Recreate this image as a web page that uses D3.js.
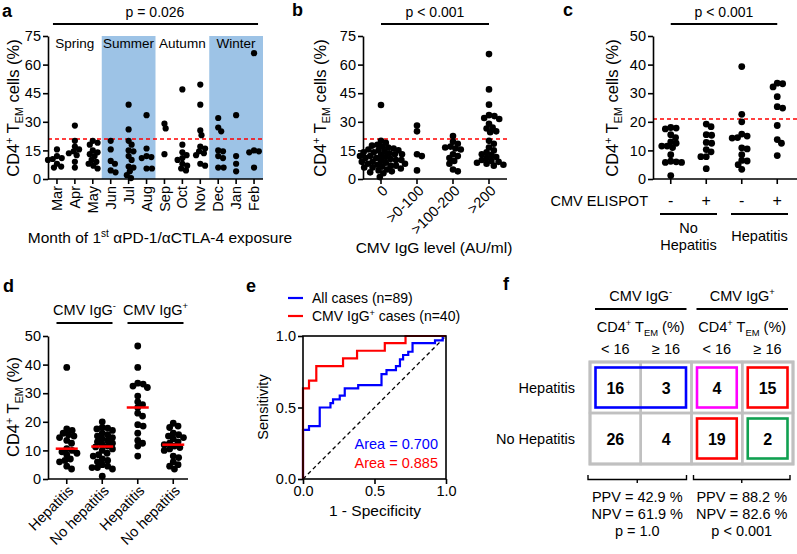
<!DOCTYPE html>
<html><head><meta charset="utf-8">
<script src="https://cdn.jsdelivr.net/npm/d3@7"></script>
<style>
body{margin:0;background:#fff}
text{font-family:"Liberation Sans",Arial,sans-serif;fill:#000}
</style>
</head><body>
<svg id="c" width="797" height="554"></svg>
<script>
// ---------------- DATA ----------------
const months = ["Mar","Apr","May","Jun","Jul","Aug","Sep","Oct","Nov","Dec","Jan","Feb"];
const monthValues = [
  [15.5, 12, 11, 10.5, 10, 8, 6.5, 6],
  [28, 20, 17, 15.5, 14.5, 13.5, 12.5, 9, 6],
  [20, 19, 18, 15, 14, 13, 12, 10, 9, 8, 7, 5.5],
  [20, 15.5, 9.5, 8, 4.5, 3.5],
  [39, 26, 20, 18, 15, 14.5, 12, 10, 6.5, 6, 4, 2, 0.5],
  [33.5, 16, 12, 11.5, 11, 5.5, 5.5],
  [29, 26.5, 13],
  [47, 18, 14, 12.5, 11, 10, 8, 7, 5.5, 4.5],
  [49.5, 39, 25.5, 23, 17, 16, 14.5, 13.5, 12.5, 8, 7],
  [32, 27, 25, 15, 14.5, 12, 11, 6, 6],
  [33.5, 12, 8, 4],
  [66, 15, 14.5, 14, 6]
];
const seasons = ["Spring","Summer","Autumn","Winter"];
const seasonShaded = [false, true, false, true];
const ticksA = [0,15,30,45,60,75];
const pA = "p = 0.026";

const igGroups = ["0", ">0-100", ">100-200", ">200"];
const igValues = [
  [38.8, 20, 19, 18, 17.5, 17, 16.5, 16, 15.5, 15, 15, 14.5, 14, 14, 13.5, 13, 13, 12.5, 12, 12, 11.5, 11, 11, 10.5, 10, 10, 9.5, 9, 9, 8.5, 8, 8, 7.5, 7, 7, 6.5, 6, 6, 5.5, 5, 4.5, 4, 3.5, 3, 1],
  [28, 25, 13, 12, 4.5],
  [22.5, 19.5, 18.5, 17, 16.5, 16, 15.5, 13, 12, 11, 9.5, 8, 5, 4],
  [65.5, 47, 39, 33.5, 33, 32, 31.5, 29, 27, 26.5, 25, 24.5, 20, 18.5, 16.5, 15, 14, 13, 12.5, 11.5, 11, 10, 9.5, 9, 8.5, 8, 7.5, 7]
];
const pB = "p < 0.001";

const elispotGroups = ["NoHep-","NoHep+","Hep-","Hep+"];
const elispotSigns = ["-","+","-","+"];
const elispotValues = [
  [18, 17.5, 17.8, 15.5, 14.5, 13, 12.5, 11.5, 11, 11.5, 8.5, 6.2, 5.8, 5.8, 6, 1.2],
  [19.2, 18.3, 15.5, 15.3, 12.8, 12.5, 10.3, 9.5, 7.8, 7.8, 3.6],
  [39.3, 22.6, 20, 15.7, 15, 14.5, 14.3, 10.9, 10.5, 8.5, 6.5, 6.3, 5, 3.4],
  [33.3, 33.5, 32.2, 28.8, 25.3, 24.8, 18.7, 13.8, 12.5, 8.2]
];
const ticksC = [0,10,20,30,40,50];
const pC = "p < 0.001";
const threshold = 21;

const dGroups = ["Hepatitis","No hepatitis","Hepatitis ","No hepatitis "];
const dValues = [
  [39, 17.5, 17, 16, 15.5, 15, 14.5, 13.5, 12.5, 10.6, 10, 9.5, 9, 8.5, 7, 6.5, 6, 4.5, 3.5],
  [20, 18, 17.8, 17.5, 17, 16, 15.5, 15, 14.5, 14, 13.5, 13, 12.5, 12, 11.5, 11.2, 10.5, 10, 9, 8.5, 8, 7, 6.5, 6, 5, 4.5, 4, 4, 3.5, 1],
  [46.5, 39, 33.5, 33.2, 32.5, 32, 29, 27, 26, 25, 23, 22, 19, 18.5, 16, 13.5, 12.5, 11.5, 8],
  [19.5, 18.5, 18, 16, 15.5, 15, 14.5, 14, 13, 12.5, 12, 11.5, 11, 10.5, 10, 8, 7.5, 6, 5, 4.5, 3.5]
];

// ROC: [fpr, tpr] corners (step after)
const rocAll = [[0,0],[0,0.343],[0.042,0.37],[0.117,0.5],[0.192,0.53],[0.21,0.557],[0.257,0.583],[0.292,0.634],[0.386,0.657],[0.549,0.734],[0.584,0.762],[0.65,0.79],[0.678,0.837],[0.70,0.867],[0.736,0.89],[0.766,0.95],[0.923,0.97],[0.977,1],[1,1]];
const rocIgG = [[0,0],[0,0.634],[0.042,0.688],[0.093,0.79],[0.28,0.844],[0.378,0.897],[0.572,0.95],[0.717,1],[1,1]];
const rocLegend = ["All cases (n=89)", "CMV IgG+ cases (n=40)"];
const rocArea = ["Area = 0.700", "Area = 0.885"];

const fGroups = ["CMV IgG-","CMV IgG+"];
const fCols = ["< 16","≥ 16","< 16","≥ 16"];
const fRows = ["Hepatitis","No Hepatitis"];
const fCounts = [[16,3,4,15],[26,4,19,2]];
const fStats = [["PPV = 42.9 %","NPV = 61.9 %","p = 1.0"],["PPV = 88.2 %","NPV = 82.6 %","p < 0.001"]];

// ---------------- HELPERS ----------------
const svg = d3.select("#c");
const FS = 14.5;

function swarm(vals, y, r) {
  const pts = vals.map(v => ({v, y: y(v)})).sort((a,b) => a.y - b.y);
  const placed = [];
  const d = 2*r*0.78;
  for (const p of pts) {
    let chosen = 0;
    for (let k = 0; k < 200; k++) {
      const off = (k === 0) ? 0 : (k % 2 ? 1 : -1) * Math.ceil(k/2) * 0.6;
      let ok = true;
      for (const q of placed) {
        const dx = q.dx - off, dy = q.y - p.y;
        if (dx*dx + dy*dy < d*d) { ok = false; break; }
      }
      if (ok) { chosen = off; break; }
    }
    p.dx = chosen; placed.push(p);
  }
  return placed;
}

function yAxis(g, scale, ticks, x, fmt) {
  const ax = d3.axisLeft(scale).tickValues(ticks).tickSize(5).tickSizeOuter(0).tickPadding(2);
  if (fmt) ax.tickFormat(fmt);
  const s = g.append("g").attr("transform", `translate(${x},0)`).call(ax);
  s.select(".domain").attr("stroke","#000").attr("stroke-width",1.6);
  s.selectAll(".tick line").attr("stroke","#000").attr("stroke-width",1.6);
  s.selectAll(".tick text").attr("font-size",FS).attr("font-family","Liberation Sans, Arial, sans-serif").attr("fill","#000");
  return s;
}
function xAxis(g, scale, y, x0, x1) {
  g.append("line").attr("x1",x0).attr("x2",x1).attr("y1",y).attr("y2",y).attr("stroke","#000").attr("stroke-width",1.6);
  scale.domain().forEach(k => {
    const cx = scale(k) + (scale.bandwidth ? scale.bandwidth()/2 : 0);
    g.append("line").attr("x1",cx).attr("x2",cx).attr("y1",y).attr("y2",y+5).attr("stroke","#000").attr("stroke-width",1.6);
  });
}
function rich(t, parts, size) {
  let cur = 0;
  parts.forEach(([s, kind]) => {
    const target = kind === "sup" ? -size*0.38 : kind === "sub" ? size*0.25 : 0;
    const ts = t.append("tspan").attr("dy", target - cur).text(s);
    if (kind !== "n") ts.attr("font-size", size*0.65);
    cur = target;
  });
}
function cdTitle(g, x, y, rest, size) {
  const t = g.append("text").attr("transform",`translate(${x},${y}) rotate(-90)`).attr("text-anchor","middle").attr("font-size",size);
  rich(t, [["CD4","n"],["+","sup"],[" T","n"],["EM","sub"],[rest,"n"]], size);
}
function letter(x, y, s) {
  svg.append("text").attr("x",x).attr("y",y).attr("font-size",18).attr("font-weight","bold").text(s);
}
function dots(g, vals, y, cx, r) {
  swarm(vals, y, r).forEach(p => {
    g.append("circle").attr("cx", cx + p.dx).attr("cy", p.y).attr("r", r).attr("fill","#000");
  });
}
function dashed(g, x0, x1, y) {
  g.append("line").attr("x1",x0).attr("x2",x1).attr("y1",y).attr("y2",y)
   .attr("stroke","#ff0000").attr("stroke-width",1.6).attr("stroke-dasharray","4,3");
}
function hline(g, x0, x1, y, w) {
  g.append("line").attr("x1",x0).attr("x2",x1).attr("y1",y).attr("y2",y).attr("stroke","#000").attr("stroke-width",w||2);
}

// ---------------- PANEL A ----------------
{
  const g = svg.append("g");
  const y = d3.scaleLinear().domain([0,75]).range([179,36]);
  const x = d3.scaleBand().domain(months).range([48,263]);
  const bw = x.bandwidth();
  seasons.forEach((s,i) => {
    const x0 = x(months[i*3]), x1 = x(months[i*3+2]) + bw;
    if (seasonShaded[i]) g.append("rect").attr("x",x0).attr("y",y(75)).attr("width",x1-x0).attr("height",y(0)-y(75)).attr("fill","#9dc3e6");
    g.append("text").attr("x",(x0+x1)/2).attr("y",48).attr("text-anchor","middle").attr("font-size",13.5).text(s);
  });
  dashed(g, 48, 263, y(threshold));
  months.forEach((m,i) => dots(g, monthValues[i], y, x(m)+bw/2, 3.1));
  yAxis(g, y, ticksA, 48);
  xAxis(g, x, 179, 48, 263);
  months.forEach(m => {
    g.append("text").attr("transform",`translate(${x(m)+bw/2},${186}) rotate(-90)`).attr("text-anchor","end").attr("dy","0.35em").attr("font-size",FS).text(m);
  });
  hline(g, x("Mar")+bw/2-4, x("Feb")+bw/2+4, 24);
  g.append("text").attr("x",155).attr("y",17).attr("text-anchor","middle").attr("font-size",14).text(pA);
  cdTitle(g, 19, 108, " cells (%)", 16.5);
  const t = g.append("text").attr("x",160).attr("y",243).attr("text-anchor","middle").attr("font-size",15.5);
  rich(t, [["Month of 1","n"],["st","sup"],[" αPD-1/αCTLA-4 exposure","n"]], 15.5);
  letter(2, 17, "a");
}

// ---------------- PANEL B ----------------
{
  const g = svg.append("g");
  const y = d3.scaleLinear().domain([0,75]).range([179,36]);
  const x = d3.scaleBand().domain(igGroups).range([363,507]);
  const bw = x.bandwidth();
  dashed(g, 363, 507, y(threshold));
  igGroups.forEach((k,i) => dots(g, igValues[i], y, x(k)+bw/2, 3.3));
  yAxis(g, y, ticksA, 363);
  xAxis(g, x, 179, 363, 507);
  igGroups.forEach(k => {
    g.append("text").attr("transform",`translate(${x(k)+bw/2+4},${188}) rotate(-45)`).attr("text-anchor","end").attr("dy","0.35em").attr("font-size",FS).text(k);
  });
  hline(g, x(igGroups[0])+bw/2, x(igGroups[3])+bw/2, 24);
  g.append("text").attr("x",(x(igGroups[0])+x(igGroups[3])+bw)/2).attr("y",17).attr("text-anchor","middle").attr("font-size",14).text(pB);
  cdTitle(g, 326, 108, " cells (%)", 16.5);
  g.append("text").attr("x",434).attr("y",253).attr("text-anchor","middle").attr("font-size",15.5).text("CMV IgG level (AU/ml)");
  letter(292, 16, "b");
}

// ---------------- PANEL C ----------------
{
  const g = svg.append("g");
  const y = d3.scaleLinear().domain([0,50]).range([179,36]);
  const x = d3.scaleBand().domain(elispotGroups).range([653,795]);
  const bw = x.bandwidth();
  dashed(g, 653, 797, y(threshold));
  elispotGroups.forEach((k,i) => dots(g, elispotValues[i], y, x(k)+bw/2, 3.4));
  yAxis(g, y, ticksC, 653);
  xAxis(g, x, 179, 653, 797);
  g.append("text").attr("x",648).attr("y",206).attr("text-anchor","end").attr("font-size",FS).text("CMV ELISPOT");
  elispotGroups.forEach((k,i) => {
    g.append("text").attr("x",x(k)+bw/2).attr("y",206).attr("text-anchor","middle").attr("font-size",16).text(elispotSigns[i]);
  });
  const c = k => x(k)+bw/2;
  const m1 = (c(elispotGroups[0])+c(elispotGroups[1]))/2, m2 = (c(elispotGroups[2])+c(elispotGroups[3]))/2;
  hline(g, m1-28.5, m1+28.5, 214, 1.8);
  hline(g, m2-28.5, m2+28.5, 214, 1.8);
  g.append("text").attr("x",m1).attr("y",233).attr("text-anchor","middle").attr("font-size",FS).text("No");
  g.append("text").attr("x",m1).attr("y",250).attr("text-anchor","middle").attr("font-size",FS).text("Hepatitis");
  g.append("text").attr("x",m2).attr("y",241).attr("text-anchor","middle").attr("font-size",FS).text("Hepatitis");
  hline(g, c(elispotGroups[0]), c(elispotGroups[3]), 24);
  g.append("text").attr("x",(c(elispotGroups[0])+c(elispotGroups[3]))/2).attr("y",17).attr("text-anchor","middle").attr("font-size",14).text(pC);
  cdTitle(g, 618, 108, " cells (%)", 16.5);
  letter(563, 16, "c");
}

// ---------------- PANEL D ----------------
{
  const g = svg.append("g");
  const y = d3.scaleLinear().domain([0,50]).range([479,336]);
  const x = d3.scaleBand().domain(dGroups).range([49,191]);
  const bw = x.bandwidth();
  dGroups.forEach((k,i) => dots(g, dValues[i], y, x(k)+bw/2, 3.4));
  dGroups.forEach((k,i) => {
    const cx = x(k)+bw/2, med = d3.median(dValues[i]);
    g.append("line").attr("x1",cx-11).attr("x2",cx+11).attr("y1",y(med)).attr("y2",y(med)).attr("stroke","#ff0000").attr("stroke-width",2.5);
  });
  yAxis(g, y, ticksC, 48);
  xAxis(g, x, 479, 48, 188);
  dGroups.forEach(k => {
    g.append("text").attr("transform",`translate(${x(k)+bw/2+4},${488}) rotate(-45)`).attr("text-anchor","end").attr("dy","0.35em").attr("font-size",FS).text(k.trim());
  });
  const c = k => x(k)+bw/2;
  [[0,1],[2,3]].forEach(([a,b],j) => {
    const m = (c(dGroups[a])+c(dGroups[b]))/2;
    hline(g, m-28, m+28, 323, 1.8);
    const t = g.append("text").attr("x",m).attr("y",315).attr("text-anchor","middle").attr("font-size",FS);
    rich(t, [["CMV IgG","n"],[j===0 ? "-" : "+","sup"]], FS);
  });
  cdTitle(g, 19, 407, " (%)", 16.5);
  letter(3, 292, "d");
}

// ---------------- PANEL E ----------------
{
  const g = svg.append("g");
  const x = d3.scaleLinear().domain([0,1]).range([303,446]);
  const y = d3.scaleLinear().domain([0,1]).range([479,336]);
  g.append("line").attr("x1",x(0)).attr("y1",y(0)).attr("x2",x(1)).attr("y2",y(1)).attr("stroke","#000").attr("stroke-width",1.3).attr("stroke-dasharray","4,3");
  const line = d3.line().x(d=>x(d[0])).y(d=>y(d[1])).curve(d3.curveStepAfter);
  g.append("path").attr("d",line(rocAll)).attr("fill","none").attr("stroke","#0000ff").attr("stroke-width",2.2);
  g.append("path").attr("d",line(rocIgG)).attr("fill","none").attr("stroke","#ff0000").attr("stroke-width",2.2);
  g.append("rect").attr("x",x(0)).attr("y",y(1)).attr("width",x(1)-x(0)).attr("height",y(0)-y(1)).attr("fill","none").attr("stroke","#000").attr("stroke-width",1.6);
  const fmt = d3.format(".1f");
  yAxis(g, y, [0,0.5,1], 303, fmt).select(".domain").remove();
  const xa = d3.axisBottom(x).tickValues([0,0.5,1]).tickFormat(fmt).tickSize(5).tickSizeOuter(0).tickPadding(2);
  const s = g.append("g").attr("transform",`translate(0,479)`).call(xa);
  s.select(".domain").remove();
  s.selectAll(".tick line").attr("stroke","#000").attr("stroke-width",1.6);
  s.selectAll(".tick text").attr("font-size",FS).attr("font-family","Liberation Sans, Arial, sans-serif").attr("fill","#000");
  g.append("text").attr("x",438).attr("y",449).attr("text-anchor","end").attr("font-size",FS).style("fill","#0000ff").text(rocArea[0]);
  g.append("text").attr("x",438).attr("y",468).attr("text-anchor","end").attr("font-size",FS).style("fill","#ff0000").text(rocArea[1]);
  g.append("text").attr("transform","translate(268,407) rotate(-90)").attr("text-anchor","middle").attr("font-size",FS).text("Sensitivity");
  g.append("text").attr("x",375).attr("y",516).attr("text-anchor","middle").attr("font-size",15.5).text("1 - Specificity");
  const cols = ["#0000ff","#ff0000"];
  [298, 316].forEach((yy,i) => {
    g.append("line").attr("x1",288).attr("x2",303).attr("y1",yy).attr("y2",yy).attr("stroke",cols[i]).attr("stroke-width",2.2);
    const t = g.append("text").attr("x",312).attr("y",yy+5).attr("font-size",14);
    if (i===0) t.text(rocLegend[0]);
    else rich(t, [["CMV IgG","n"],["+","sup"],[" cases (n=40)","n"]], 14);
  });
  letter(246, 292, "e");
}

// ---------------- PANEL F ----------------
{
  const g = svg.append("g");
  const x = d3.scaleBand().domain(d3.range(fCols.length)).range([590,793]);
  const y = d3.scaleBand().domain(d3.range(fRows.length)).range([362,464]);
  const bw = x.bandwidth(), bh = y.bandwidth();
  fRows.forEach((r,ri) => fCols.forEach((c,ci) => {
    g.append("rect").attr("x",x(ci)).attr("y",y(ri)).attr("width",bw).attr("height",bh).attr("fill","none").attr("stroke","#c0c0c0").attr("stroke-width",2.5);
  }));
  g.append("rect").attr("x",590).attr("y",362).attr("width",203).attr("height",102).attr("fill","none").attr("stroke","#c0c0c0").attr("stroke-width",3);
  const boxes = [[0,0,1,"#0000ff"],[0,2,2,"#ff00ff"],[0,3,3,"#ff0000"],[1,2,2,"#ff0000"],[1,3,3,"#10a050"]];
  boxes.forEach(([ri,c0,c1,col]) => {
    g.append("rect").attr("x",x(c0)+5.5).attr("y",y(ri)+5.5).attr("width",x(c1)+bw-x(c0)-11).attr("height",bh-11).attr("fill","none").attr("stroke",col).attr("stroke-width",2.6);
  });
  fRows.forEach((r,ri) => {
    g.append("text").attr("x",575).attr("y",y(ri)+bh/2+5).attr("text-anchor","end").attr("font-size",FS).text(r);
    fCols.forEach((c,ci) => {
      g.append("text").attr("x",x(ci)+bw/2).attr("y",y(ri)+bh/2+6).attr("text-anchor","middle").attr("font-size",16).attr("font-weight","bold").text(fCounts[ri][ci]);
    });
  });
  fCols.forEach((c,ci) => {
    g.append("text").attr("x",x(ci)+bw/2).attr("y",354).attr("text-anchor","middle").attr("font-size",FS).text(c);
  });
  fGroups.forEach((gName,gi) => {
    const x0 = x(gi*2), x1 = x(gi*2+1)+bw, m = (x0+x1)/2;
    hline(g, x0+5, x1-5, 309, 1.8);
    const t = g.append("text").attr("x",m).attr("y",301).attr("text-anchor","middle").attr("font-size",FS);
    rich(t, [["CMV IgG","n"],[gi===0 ? "-" : "+","sup"]], FS);
    const t2 = g.append("text").attr("x",m).attr("y",332).attr("text-anchor","middle").attr("font-size",FS);
    rich(t2, [["CD4","n"],["+","sup"],[" T","n"],["EM","sub"],[" (%)","n"]], FS);
    const bx0 = x0-2+ (gi? 4:0), bx1 = x1 - (gi?3:5);
    g.append("path").attr("d",`M${bx0},475 V479.5 H${bx1} V475 M${(bx0+bx1)/2},479.5 V483`).attr("fill","none").attr("stroke","#000").attr("stroke-width",1.4);
    fStats[gi].forEach((s,si) => {
      g.append("text").attr("x",(bx0+bx1)/2).attr("y",502+si*17).attr("text-anchor","middle").attr("font-size",FS).text(s);
    });
  });
  letter(503, 290, "f");
}
</script>
</body></html>
